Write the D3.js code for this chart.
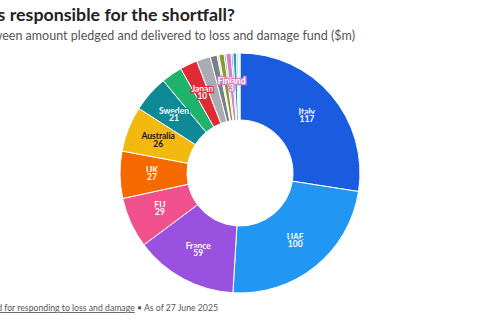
<!DOCTYPE html>
<html>
<head>
<meta charset="utf-8">
<script src="https://cdn.jsdelivr.net/npm/d3@7"></script>
<style>
  body { margin: 0; background: #fff; }
  svg { display: block; font-family: Lato, sans-serif; }
</style>
</head>
<body>
<div id="chart"></div>
<script>
// Shortfall between pledged and delivered ($m), clockwise from 12 o'clock.
const countries = ["Italy", "UAE", "France", "EU", "UK", "Australia", "Sweden", "Denmark",
  "Japan", "Norway", "Ireland", "Spain", "Austria", "Belgium", "Finland", "Slovenia",
  "Luxembourg", "Estonia", "Iceland"];
const shortfall = [117, 100, 59, 29, 27, 26, 21, 12, 10, 8, 4, 1, 3, 1, 3, 1, 2, 1, 1];
const colors = ["#1a5ce0", "#2196f3", "#9b51e0", "#f0508c", "#f56a00", "#f2b90f", "#0e8a96",
  "#1fb36b", "#e02a36", "#a9adb3", "#7a7e85", "#c8cbd0", "#8a9a2a", "#4cb88a", "#d47fc6",
  "#9b6fd6", "#17a2b8", "#9ec5e8", "#dde3ea"];
const labelled = ["Italy", "UAE", "France", "EU", "UK", "Australia", "Sweden", "Japan", "Finland"];
const darkText = ["Australia"];

const width = 480, height = 320;
const cx = 240, cy = 173, outerR = 120, innerR = 53;

const data = countries.map((c, i) => ({ name: c, value: shortfall[i], color: colors[i] }));

const svg = d3.select("#chart").append("svg")
  .attr("width", width).attr("height", height);

// Title block (page is cropped on the left, so anchor on the right end)
svg.append("text")
  .attr("x", 235).attr("y", 21)
  .attr("text-anchor", "end")
  .attr("font-size", 17.8).attr("font-weight", 700).attr("fill", "#222")
  .text("Who is responsible for the shortfall?");

svg.append("text")
  .attr("x", 355).attr("y", 40)
  .attr("text-anchor", "end")
  .attr("font-size", 12.5).attr("fill", "#555")
  .text("Difference between amount pledged and delivered to loss and damage fund ($m)");

const pie = d3.pie().sort(null).value((d) => d.value);
const arc = d3.arc().innerRadius(innerR).outerRadius(outerR);
const labelArc = d3.arc().innerRadius(56).outerRadius(120);

const g = svg.append("g").attr("transform", `translate(${cx},${cy})`);

const arcs = pie(data);

g.selectAll("path")
  .data(arcs)
  .join("path")
  .attr("d", arc)
  .attr("fill", (d) => d.data.color)
  .attr("stroke", "#fff")
  .attr("stroke-width", 1);

// Slice labels: name over value, with a halo in the slice colour
const labels = g.selectAll("text.lbl")
  .data(arcs.filter((d) => labelled.includes(d.data.name)))
  .join("text")
  .attr("class", "lbl")
  .attr("transform", (d) => `translate(${labelArc.centroid(d)})`)
  .attr("text-anchor", "middle")
  .attr("font-size", 8.5)
  .attr("font-weight", 700)
  .attr("fill", (d) => (darkText.includes(d.data.name) ? "#111" : "#fff"))
  .attr("stroke", (d) => d.data.color)
  .attr("stroke-width", 2.5)
  .attr("paint-order", "stroke");

labels.append("tspan").attr("x", 0).attr("dy", "-0.15em").text((d) => d.data.name);
labels.append("tspan").attr("x", 0).attr("dy", "0.85em").text((d) => d.data.value);

// Footer
const foot = svg.append("text")
  .attr("x", 218).attr("y", 311)
  .attr("text-anchor", "end")
  .attr("font-size", 8.7).attr("fill", "#555");
foot.append("tspan").text("Source: ");
foot.append("tspan").attr("text-decoration", "underline").text("Fund for responding to loss and damage");
foot.append("tspan").text(" \u2022 As of 27 June 2025");
</script>
</body>
</html>
